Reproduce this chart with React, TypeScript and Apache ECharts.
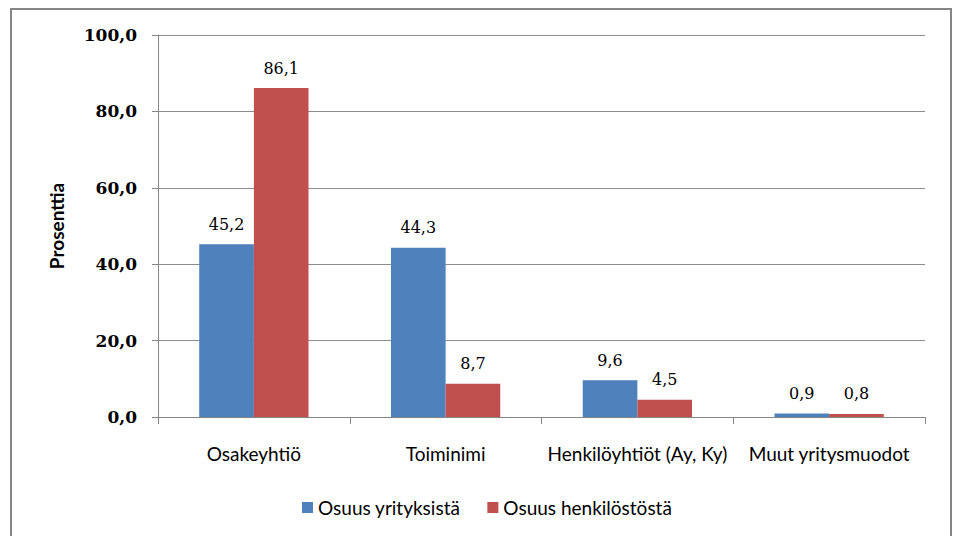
import React, { useEffect, useRef } from "react";
import * as echarts from "echarts";

const categories = ["Osakeyhtiö", "Toiminimi", "Henkilöyhtiöt (Ay, Ky)", "Muut yritysmuodot"];
const seriesNames = ["Osuus yrityksistä", "Osuus henkilöstöstä"];
const companyShare = [45.2, 44.3, 9.6, 0.9];
const staffShare = [86.1, 8.7, 4.5, 0.8];
const yTicks = { min: 0, max: 100, interval: 20 };

const fmt = (v: number) => v.toFixed(1).replace(".", ",");

export default function App() {
  const ref = useRef<HTMLDivElement>(null);
  useEffect(() => {
    if (!ref.current) return;
    const chart = echarts.init(ref.current, null, { renderer: "svg" });
    const labelStyle = {
      show: true,
      position: "top" as const,
      distance: 12,
      fontFamily: "DejaVu Serif",
      fontWeight: "normal" as const,
      fontSize: 16,
      color: "#000",
      formatter: (p: any) => fmt(p.value),
    };
    chart.setOption({
      animation: false,
      backgroundColor: "#fff",
      graphic: [
        {
          type: "rect",
          shape: { x: 11, y: 9, width: 940, height: 540 },
          style: { fill: "none", stroke: "#858585", lineWidth: 2 },
          z: 100,
        },
      ],
      grid: { left: 158, right: 29, top: 35, bottom: 119, containLabel: false },
      legend: {
        bottom: 14,
        left: 297,
        icon: "rect",
        itemWidth: 11,
        itemHeight: 11,
        itemGap: 27,
        textStyle: { fontFamily: "Lato", fontSize: 19, color: "#000" },
        data: seriesNames,
      },
      xAxis: {
        type: "category",
        data: categories,
        axisLine: { lineStyle: { color: "#868686", width: 1 } },
        axisTick: { show: true, length: 7, lineStyle: { color: "#868686" } },
        axisLabel: {
          margin: 27,
          fontFamily: "Lato",
          fontSize: 19,
          color: "#000",
          interval: 0,
        },
      },
      yAxis: {
        type: "value",
        min: yTicks.min,
        max: yTicks.max,
        interval: yTicks.interval,
        name: "Prosenttia",
        nameLocation: "middle",
        nameRotate: 90,
        nameGap: 92,
        nameTextStyle: { fontFamily: "Lato", fontWeight: "bold", fontSize: 19, color: "#000" },
        axisLine: { show: true, lineStyle: { color: "#868686" } },
        axisTick: { show: true, inside: false, length: 6, lineStyle: { color: "#868686" } },
        splitLine: { show: true, lineStyle: { color: "#8c8c8c", width: 1 } },
        axisLabel: {
          margin: 21,
          fontFamily: "DejaVu Serif",
          fontWeight: "bold",
          fontSize: 17,
          color: "#000",
          formatter: (v: number) => fmt(v),
        },
      },
      series: [
        {
          name: seriesNames[0],
          type: "bar",
          data: companyShare,
          itemStyle: { color: "#4F81BD" },
          barGap: "0%",
          barCategoryGap: "43%",
          label: labelStyle,
        },
        {
          name: seriesNames[1],
          type: "bar",
          data: staffShare,
          itemStyle: { color: "#C0504D" },
          barGap: "0%",
          barCategoryGap: "43%",
          label: labelStyle,
        },
      ],
    });
    return () => chart.dispose();
  }, []);
  return (
    <div
      ref={ref}
      style={{ position: "fixed", left: 0, top: 0, width: 954, height: 536 }}
    />
  );
}
